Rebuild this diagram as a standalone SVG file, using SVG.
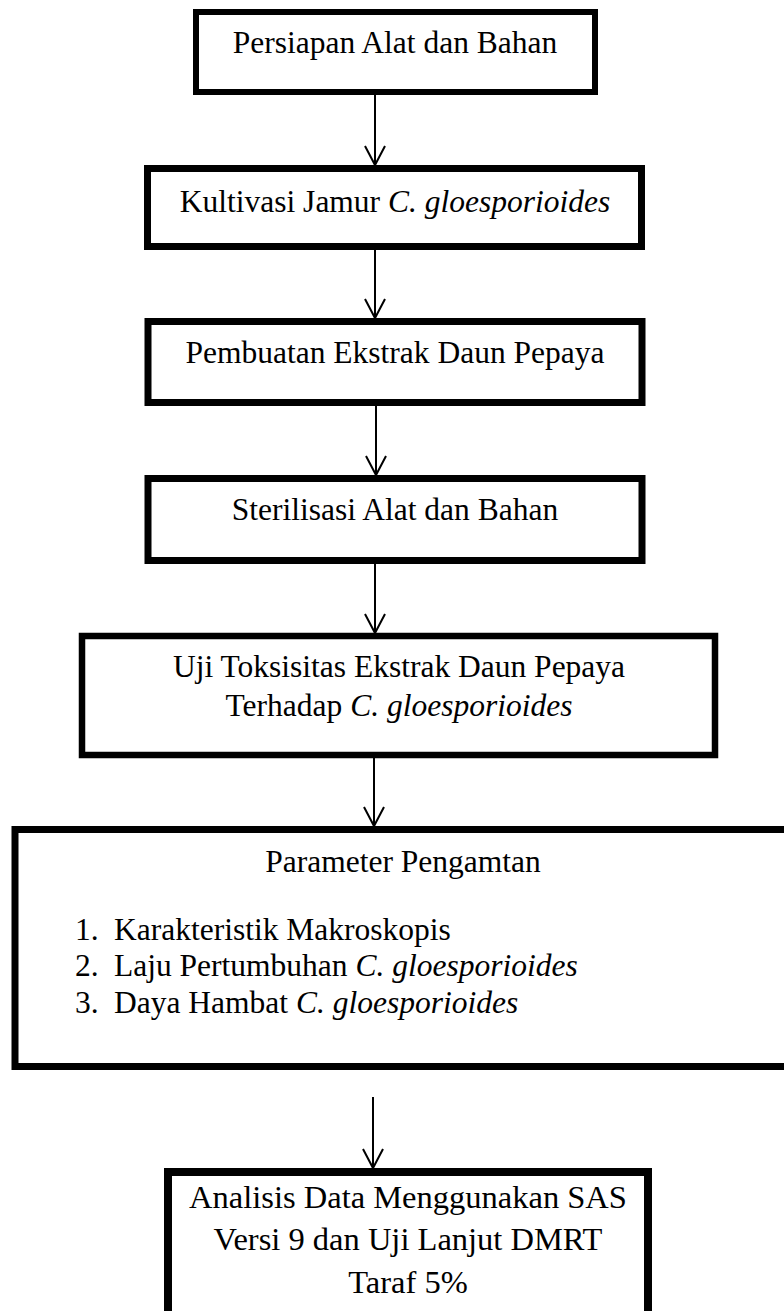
<svg xmlns="http://www.w3.org/2000/svg" width="784" height="1311" viewBox="0 0 784 1311">
<style>
.box{fill:#fff;stroke:#000;}
.t{font-family:"Liberation Serif","Times New Roman",serif;font-size:31.5px;fill:#000;}
.big{font-size:32.5px;}
.c{text-anchor:middle;}
.i{font-style:italic;}
.con{stroke:#000;stroke-width:2;fill:none;}
</style>
<defs>
<marker id="ah" markerUnits="userSpaceOnUse" markerWidth="24" markerHeight="24" refX="0" refY="0" orient="auto" overflow="visible">
<path d="M-19,-10 L0,0 L-19,10" fill="none" stroke="#000" stroke-width="2"/>
</marker>
</defs>
<rect x="0" y="0" width="784" height="1311" fill="#fff"/>
<g id="connectors">
<line class="con" x1="375" y1="95" x2="375" y2="165" marker-end="url(#ah)"/>
<line class="con" x1="375" y1="250" x2="375" y2="318" marker-end="url(#ah)"/>
<line class="con" x1="376" y1="406" x2="376" y2="475" marker-end="url(#ah)"/>
<line class="con" x1="375" y1="563" x2="375" y2="633" marker-end="url(#ah)"/>
<line class="con" x1="374" y1="757" x2="374" y2="826" marker-end="url(#ah)"/>
<line class="con" x1="373" y1="1097" x2="373" y2="1168" marker-end="url(#ah)"/>
</g>
<g id="n1">
<rect class="box" x="196" y="12" width="399" height="80" stroke-width="6"/>
<text class="t c" x="395" y="53">Persiapan Alat dan Bahan</text>
</g>
<g id="n2">
<rect class="box" x="147.5" y="168.5" width="494" height="78" stroke-width="7"/>
<text class="t c" x="395" y="212">Kultivasi Jamur <tspan class="i">C. gloesporioides</tspan></text>
</g>
<g id="n3">
<rect class="box" x="148" y="321.5" width="494" height="81" stroke-width="7"/>
<text class="t c" x="395" y="363">Pembuatan Ekstrak Daun Pepaya</text>
</g>
<g id="n4">
<rect class="box" x="148" y="478.5" width="494" height="82" stroke-width="7"/>
<text class="t c" x="395" y="520">Sterilisasi Alat dan Bahan</text>
</g>
<g id="n5">
<rect class="box" x="82" y="636" width="633" height="119" stroke-width="6.5"/>
<text class="t c" x="399" y="677">Uji Toksisitas Ekstrak Daun Pepaya</text>
<text class="t c" x="399" y="716">Terhadap <tspan class="i">C. gloesporioides</tspan></text>
</g>
<g id="n6">
<rect class="box" x="15" y="829.5" width="777" height="237" stroke-width="7"/>
<text class="t c" x="403" y="872">Parameter Pengamtan</text>
<text class="t" x="75" y="940">1.</text>
<text class="t" x="114" y="940">Karakteristik Makroskopis</text>
<text class="t" x="75" y="976">2.</text>
<text class="t" x="114" y="976">Laju Pertumbuhan <tspan class="i">C. gloesporioides</tspan></text>
<text class="t" x="75" y="1013">3.</text>
<text class="t" x="114" y="1013">Daya Hambat <tspan class="i">C. gloesporioides</tspan></text>
</g>
<g id="n7">
<rect class="box" x="168" y="1172" width="480" height="150" stroke-width="8"/>
<text class="t big c" x="408" y="1208">Analisis Data Menggunakan SAS</text>
<text class="t big c" x="408" y="1250">Versi 9 dan Uji Lanjut DMRT</text>
<text class="t big c" x="408" y="1293">Taraf 5%</text>
</g>
</svg>
